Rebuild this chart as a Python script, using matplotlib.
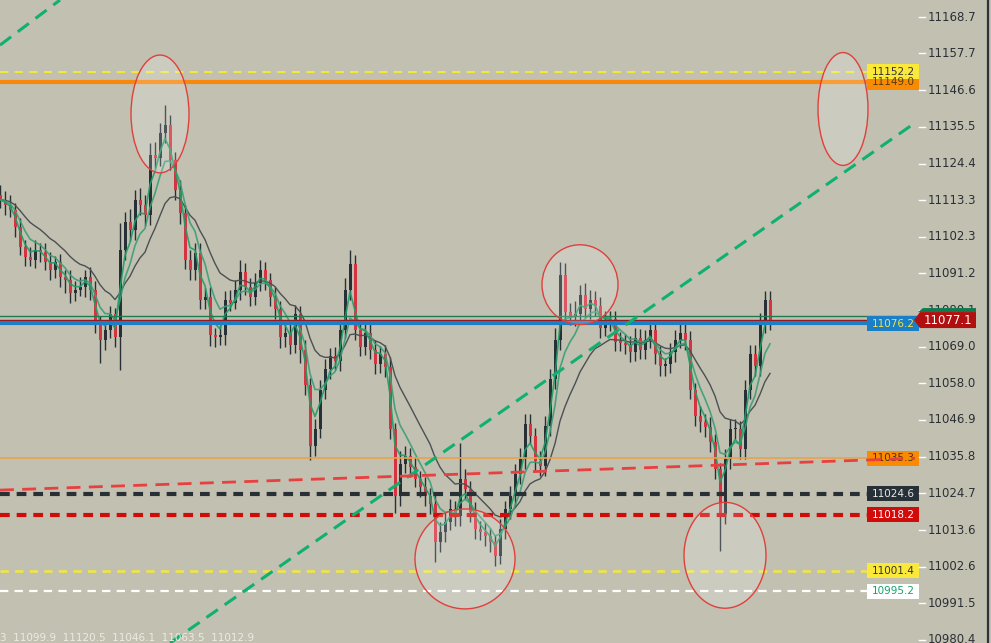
import matplotlib
matplotlib.use('Agg')
import matplotlib.pyplot as plt
import numpy as np
import pandas as pd
from matplotlib.patches import Ellipse, Rectangle, Polygon

plt.rcParams['lines.scale_dashes'] = False
plt.rcParams['font.family'] = ['DejaVu Sans']

# ---------------- data ----------------
closes = [
    11113.5, 11111.9, 11110.4, 11105.3, 11099.3, 11096.3, 11095.4, 11098.4, 11097.8, 11094.8,
    11092.3, 11094.5, 11090.2, 11089.3, 11085.4, 11086.3, 11087.2, 11090.2, 11086.3, 11076.3,
    11071.2, 11074.2, 11078.8, 11072.1, 11098.4, 11106.8, 11104.4, 11113.5, 11111.9, 11108.9,
    11127.0, 11126.1, 11133.7, 11136.1, 11125.5, 11116.5, 11109.5, 11095.4, 11092.3, 11097.5,
    11083.3, 11084.2, 11072.7, 11072.1, 11072.7, 11083.3, 11082.4, 11086.3, 11091.7, 11087.2,
    11084.2, 11088.4, 11092.3, 11089.3, 11084.2, 11080.3, 11072.1, 11073.3, 11069.7, 11078.8,
    11068.2, 11057.6, 11038.9, 11044.1, 11056.1, 11062.2, 11066.1, 11064.6, 11074.2, 11086.3,
    11093.9, 11074.2, 11069.1, 11073.3, 11068.2, 11063.7, 11066.7, 11062.8, 11044.1, 11023.9,
    11033.5, 11035.9, 11032.6, 11029.0, 11026.6, 11023.9, 11021.4, 11010.0, 11013.0, 11016.0,
    11019.9, 11017.8, 11029.0, 11026.0, 11019.0, 11013.9, 11013.0, 11011.8, 11010.0, 11005.8,
    11013.9, 11019.9, 11023.9, 11030.5, 11035.0, 11045.6, 11042.0, 11034.4, 11032.9, 11045.0,
    11059.2, 11071.2, 11090.8, 11079.4, 11078.2, 11078.8, 11084.8, 11080.3, 11083.3, 11081.2,
    11074.8, 11076.7, 11077.3, 11070.6, 11070.3, 11069.7, 11067.3, 11071.8, 11068.2, 11071.2,
    11074.2, 11066.7, 11063.1, 11063.7, 11067.3, 11071.2, 11073.3, 11071.2, 11056.1, 11048.0,
    11046.2, 11044.7, 11040.1, 11032.0, 11018.4, 11035.0, 11044.1, 11044.1, 11038.0, 11056.1,
    11066.7, 11063.1, 11076.3, 11083.3, 11077.1,
]
first_open = 11114.8
wick_up = [
    3, 2.5, 3, 2, 2.5, 2, 3, 3, 2, 2.5,
    3, 2, 2.5, 2, 3, 2.5, 3, 2, 3, 2.5,
    2, 3, 2.5, 2, 8, 3, 4, 3, 3.5, 3,
    3.5, 4, 3, 6, 3, 2.5, 3, 2.5, 3, 3,
    3, 2.5, 3, 2, 3, 2.5, 3, 3, 3.5, 2.5,
    2.5, 3, 3, 2.5, 2, 3, 2.5, 3, 2.5, 3,
    2.5, 3, 2, 3, 3, 3, 2.5, 3, 3, 3.5,
    4.5, 3, 2.5, 3, 2.5, 3, 2.5, 3, 3, 2,
    4, 3, 2.5, 3, 2.5, 3, 2.5, 3, 3, 3,
    3, 2.5, 11, 3, 2.5, 3, 2.5, 3, 2.5, 2,
    3, 2.5, 3, 3, 3.5, 3, 3, 2.5, 3, 3,
    3, 3.5, 4, 3.5, 3, 4, 3, 3.5, 3, 2.5,
    3, 3, 2.5, 2.5, 3, 2.5, 2.5, 3, 2.5, 3,
    3, 2.5, 2.5, 2, 3, 3, 3.5, 3, 2.5, 2,
    3, 2.5, 3, 2.5, 2, 3, 3, 3, 2.5, 3,
    3, 3, 3, 2.5, 2.5,
]
wick_dn = [
    2.5, 3, 2, 3, 2.5, 3, 2, 2.5, 3, 2.5,
    3, 2.5, 3, 4, 3, 2.5, 2, 3, 3, 3,
    7, 3, 2.5, 3, 10, 3, 3.5, 3, 3, 3.5,
    3, 3, 2.5, 3, 3, 3, 3.5, 3, 3, 3,
    3, 3, 3.5, 3, 2.5, 3, 2.5, 2, 3, 2.5,
    3, 2.5, 2.5, 3, 3, 3, 3.5, 3, 3, 2.5,
    4, 3, 4, 3, 2.5, 3, 3, 2.5, 3, 2.5,
    3, 3, 3, 2.5, 3, 3, 2.5, 3, 3, 5,
    3, 2.5, 3, 2.5, 3, 3, 3, 6, 3, 3,
    2.5, 3, 3, 3, 3, 3, 2.5, 3, 3, 3,
    2.5, 3, 3, 3, 3, 3, 2.5, 3, 3, 3,
    3, 3, 3, 3, 2.5, 3, 3, 2.5, 3, 3,
    3, 2.5, 3, 3, 2.5, 3, 3, 2.5, 3, 3,
    2.5, 3, 3, 3, 2.5, 3, 2.5, 3, 3, 3,
    3, 3, 3, 3, 11, 3, 3, 3, 3, 3,
    3, 3, 3, 3, 3,
]

y_ticks = [11168.7, 11157.7, 11146.6, 11135.5, 11124.4, 11113.3, 11102.3, 11091.2, 11080.1,
           11069.0, 11058.0, 11046.9, 11035.8, 11024.7, 11013.6, 11002.6, 10991.5, 10980.4]

current_price = 11077.1
ask_price = 11078.2
blue_level = 11076.2

# horizontal levels: (value, line colour, lw, dashes or None, box bg, box text colour)
levels = [
    (11149.0, '#f7880c', 3.0, None, '#f98b02', '#5a3a10'),
    (11152.2, '#f3e83a', 1.5, (6, 4.5), '#fbe93a', '#333333'),
    (11035.3, '#e9a24a', 1.2, None, '#f98b02', '#4a3010'),
    (11024.6, '#283036', 3.0, (7, 5), '#263036', '#e8e8e8'),
    (11018.2, '#d10a0a', 3.0, (7, 5), '#d10a0a', '#ffffff'),
    (11001.4, '#f3e83a', 1.8, (6, 4.5), '#fbe93a', '#333333'),
    (10995.2, '#ffffff', 1.6, (6, 4.5), '#ffffff', '#13a36a'),
]

# trend lines: ((x0, p0), (x1, p1)) with x in chart pixels
green_trend_a = ((0, 11160.2), (60, 11173.84))
green_trend_b = ((170, 10979.5), (915, 11136.7))
red_trend = ((0, 11025.7), (915, 11035.3))

# ellipses: (x centre, price centre, width px, height in price)
ellipses = [
    (160, 11139.4, 58, 35.6),
    (580, 11087.8, 76, 24.1),
    (465, 11004.9, 100, 30.2),
    (725, 11006.0, 82, 32.0),
    (843, 11140.9, 50, 34.1),
]

info_text = "3  11099.9  11120.5  11046.1  11063.5  11012.9"

# ---------------- figure ----------------
W, H = 991, 643
YMAX, YMIN = 11173.84, 10979.49
PX = (YMAX - YMIN) / H          # price units per pixel
bg = '#c2c0b1'

fig = plt.figure(figsize=(W / 100, H / 100), dpi=100)
fig.patch.set_facecolor(bg)
ax = fig.add_axes([0, 0, 1, 1])
ax.set_facecolor(bg)
ax.set_xlim(0, W)
ax.set_ylim(YMIN, YMAX)
ax.axis('off')

spacing = 5
n = len(closes)
xs = np.arange(n) * spacing
opens = [first_open] + closes[:-1]
highs = [max(o, c) + u for o, c, u in zip(opens, closes, wick_up)]
lows = [min(o, c) - d for o, c, d in zip(opens, closes, wick_dn)]

up_col, dn_col = '#263036', '#d6323f'
for x, o, h, l, c in zip(xs, opens, highs, lows, closes):
    col = up_col if c >= o else dn_col
    ax.vlines(x, l, h, color='#263036', lw=1.0, zorder=3)
    ax.add_patch(Rectangle((x - 1.5, min(o, c)), 3, max(abs(c - o), 0.4),
                           facecolor=col, edgecolor='none', zorder=4))

s = pd.Series(closes)
ema_fast = s.ewm(span=3, adjust=False).mean()
ema_mid = s.ewm(span=6, adjust=False).mean()
ema_slow = s.ewm(span=14, adjust=False).mean()
ax.plot(xs, ema_slow, color='#4b5053', lw=1.0, zorder=5)
ax.plot(xs, ema_mid, color='#3a9f76', lw=1.2, alpha=0.9, zorder=5)
ax.plot(xs, ema_fast, color='#1e9e68', lw=1.2, alpha=0.9, zorder=5)

PLOT_R = 918
# current price lines
ax.plot([0, PLOT_R], [ask_price, ask_price], color='#1f7a50', lw=1.0, zorder=6)
ax.plot([0, PLOT_R], [current_price, current_price], color='#a01212', lw=1.0, zorder=6)
ax.plot([0, PLOT_R], [blue_level, blue_level], color='#1a7fc6', lw=3.0, zorder=6)

# levels
for v, lc, lw, dash, _, _ in levels:
    ln, = ax.plot([0, PLOT_R], [v, v], color=lc, lw=lw, zorder=6,
                  solid_capstyle='butt')
    if dash:
        ln.set_dashes(dash)

# trend lines
for (p0, p1), col, lw, dash in [(green_trend_a, '#0fb070', 2.2, (10, 6)),
                                (green_trend_b, '#0fb070', 2.2, (10, 6)),
                                (red_trend, '#e8403f', 2.0, (10, 6))]:
    ln, = ax.plot([p0[0], p1[0]], [p0[1], p1[1]], color=col, lw=lw, zorder=7)
    ln.set_dashes(dash)

# ellipses
for cx, cy, w, h in ellipses:
    ax.add_patch(Ellipse((cx, cy), w, h, facecolor=(1, 1, 1, 0.18),
                         edgecolor='#e0403c', lw=1.0, zorder=8))

# label boxes
BX0, BW, BH = 867, 52, 15 * PX
for v, _, _, _, bc, tc in levels:
    ax.add_patch(Rectangle((BX0, v - BH / 2), BW, BH, facecolor=bc,
                           edgecolor='none', zorder=9))
    ax.text(BX0 + BW / 2, v, f"{v:.1f}", color=tc, fontsize=7.5,
            ha='center', va='center', zorder=10)
ax.add_patch(Rectangle((BX0, blue_level - 0.5 * PX - BH / 2), BW, BH,
                       facecolor='#1a7fc6', edgecolor='none', zorder=9))
ax.text(BX0 + BW / 2, blue_level - 0.5 * PX, f"{blue_level:.1f}", color='#f2e34a',
        fontsize=7.5, ha='center', va='center', zorder=10)

# re-draw red trend tail over its box
ln, = ax.plot([BX0, red_trend[1][0]],
              [red_trend[0][1] + (red_trend[1][1] - red_trend[0][1]) * BX0 / red_trend[1][0],
               red_trend[1][1]], color='#e8403f', lw=2.0, zorder=11)
ln.set_dashes((10, 6))

# y axis ticks
for t in y_ticks:
    ax.plot([919, 925], [t, t], color='white', lw=1.0, zorder=9)
    ax.text(928, t, f"{t:.1f}", color='#2b3035', fontsize=8.5,
            ha='left', va='center', zorder=9)

# current price tag
th = 8 * PX
tag = Polygon([(914, current_price), (920, current_price + th), (976, current_price + th),
               (976, current_price - th), (920, current_price - th)],
              closed=True, facecolor='#b0100f', edgecolor='none', zorder=12)
strip = Polygon([(918, current_price + th), (923, current_price + th + 4 * PX),
                 (976, current_price + th + 4 * PX), (976, current_price + th)],
                closed=True, facecolor='#0e7a4e', edgecolor='none', zorder=12)
ax.add_patch(strip)
ax.add_patch(tag)
ax.text(948, current_price, f"{current_price:.1f}", color='white', fontsize=8.5,
        ha='center', va='center', zorder=13)

# right border line
ax.plot([987.5, 987.5], [YMIN, YMAX], color='#2d3237', lw=1.6, zorder=9)

# bottom info text
ax.text(0, YMIN + 5 * PX, info_text, color='#ecebe3', fontsize=7.5,
        ha='left', va='center', zorder=9)

fig.savefig('out.png', dpi=100, facecolor=bg)
